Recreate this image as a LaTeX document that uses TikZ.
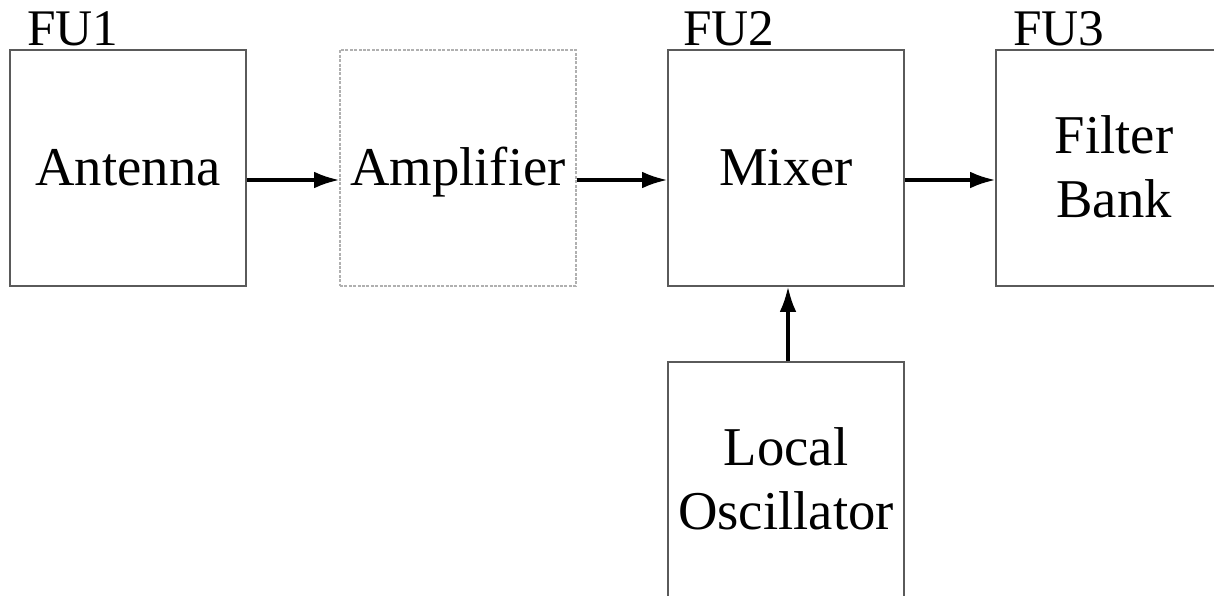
\documentclass[tikz,border=0pt]{standalone}
\usepackage{fontspec}
\setmainfont{Liberation Serif}
\usetikzlibrary{arrows.meta}
\definecolor{boxgray}{HTML}{5A5A5A}
\definecolor{dotgray}{HTML}{B0B0B0}
\tikzset{
  blk/.style={draw=boxgray, line width=0.8pt, rectangle, minimum width=177pt, minimum height=177pt,
    inner sep=0pt, align=center, font=\fontsize{41}{48}\selectfont, text height=26.5pt, text depth=0pt},
  twoline/.style={text height=74.5pt},
  dotblk/.style={blk, draw=dotgray, dash pattern=on 2.2pt off 1.1pt},
  fulabel/.style={anchor=base west, inner sep=0pt, font=\fontsize{38.5}{46}\selectfont},
  conn/.style={line width=2.5pt, -{Latex[length=19pt,width=12.5pt]}}
}
\begin{document}
\begin{tikzpicture}[x=0.75pt,y=-0.75pt]
\useasboundingbox (0,0) rectangle (1214,596);
\clip (0,0) rectangle (1214,596);
\node[blk] (ant) at (128,168) {Antenna};
\node[dotblk] (amp) at (458,168) {Amplifier};
\node[blk] (mix) at (786,168) {Mixer};
\node[blk, twoline] (fil) at (1114,168) {Filter\\Bank};
\node[blk, twoline] (lo) at (786,480) {Local\\Oscillator};
\node[fulabel] (fu1) at (27,45) {FU1};
\node[fulabel] (fu2) at (683,45) {FU2};
\node[fulabel] (fu3) at (1013,45) {FU3};
\draw[conn] ([yshift=-9pt]ant.east) -- ([yshift=-9pt]amp.west);
\draw[conn] ([yshift=-9pt]amp.east) -- ([yshift=-9pt]mix.west);
\draw[conn] ([yshift=-9pt]mix.east) -- ([yshift=-9pt]fil.west);
\draw[conn] ([xshift=1.5pt]lo.north) -- ([xshift=1.5pt]mix.south);
\end{tikzpicture}
\end{document}
